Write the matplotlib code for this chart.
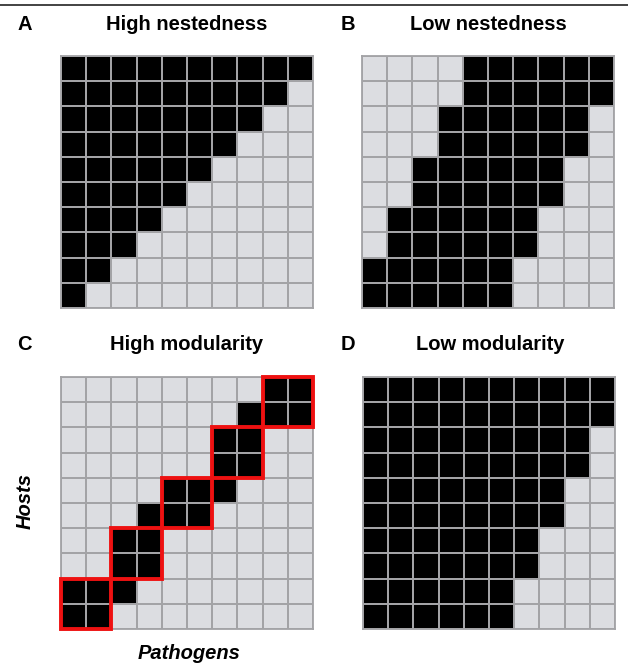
import numpy as np
import matplotlib.pyplot as plt
from matplotlib.colors import ListedColormap
from matplotlib.patches import Rectangle

# 10 x 10 host-pathogen matrices, row 0 at top; 1 = interaction (black)
n = 10
# A: black cells per row from the left
high_nest_len = [10, 9, 8, 7, 6, 5, 4, 3, 2, 1]
# B: black run per row [start, end)
low_nest_start = [4, 4, 3, 3, 2, 2, 1, 1, 0, 0]
low_nest_end = [10, 10, 9, 9, 8, 8, 7, 7, 6, 6]
# C: 2x2 modules (top row, left col) plus stray links (row, col)
modules = [(8, 0), (6, 2), (4, 4), (2, 6), (0, 8)]
stray_links = [(8, 2), (5, 3), (4, 6), (1, 7)]
# D: black cells per row from the left
low_mod_len = [10, 10, 9, 9, 8, 8, 7, 7, 6, 6]

titles = ['High nestedness', 'Low nestedness', 'High modularity', 'Low modularity']
letters = ['A', 'B', 'C', 'D']


def runs(starts, ends):
    m = np.zeros((n, n))
    for r in range(n):
        m[r, starts[r]:ends[r]] = 1
    return m


mat_a = runs([0] * n, high_nest_len)
mat_b = runs(low_nest_start, low_nest_end)
mat_c = np.zeros((n, n))
for r, c in modules:
    mat_c[r:r + 2, c:c + 2] = 1
for r, c in stray_links:
    mat_c[r, c] = 1
mat_d = runs([0] * n, low_mod_len)
mats = [mat_a, mat_b, mat_c, mat_d]

W, H = 628, 667
fig = plt.figure(figsize=(W / 100, H / 100), dpi=100)
plt.rcParams['font.family'] = ['Liberation Sans', 'DejaVu Sans']

cmap = ListedColormap(['#dcdde1', '#000000'])
# panel boxes in pixels: left, top, size
boxes = [(61, 56, 252), (362, 56, 252), (61, 377, 252), (363, 377, 252)]
title_cx = [187, 488, 187, 490]
fs = 14.5

for i, (x0, y0, s) in enumerate(boxes):
    ax = fig.add_axes([x0 / W, 1 - (y0 + s) / H, s / W, s / H])
    ax.pcolormesh(np.arange(n + 1), np.arange(n + 1), mats[i], cmap=cmap,
                  vmin=0, vmax=1, edgecolors='#a3a3a6', linewidth=1.3)
    ax.set_xlim(0, n)
    ax.set_ylim(n, 0)
    ax.set_xticks([])
    ax.set_yticks([])
    for sp in ax.spines.values():
        sp.set_color('#a3a3a6')
        sp.set_linewidth(1.3)
    if i == 2:
        for r, c in modules:
            ax.add_patch(Rectangle((c, r), 2, 2, fill=False, edgecolor='#ee1111',
                                   linewidth=2.8, clip_on=False, zorder=5))
    ty = 1 - (30.5 if i < 2 else 350) / H
    fig.text(title_cx[i] / W, ty, titles[i], ha='center', va='baseline',
             fontsize=fs, fontweight='bold')
    lx = (17 if i % 2 == 0 else 341) / W
    fig.text(lx, ty, letters[i], ha='left', va='baseline',
             fontsize=fs, fontweight='bold')

fig.text(25.5 / W, 1 - 501 / H, 'Hosts', rotation=90, ha='center', va='center',
         fontsize=fs, fontweight='bold', style='italic')
fig.text(189 / W, 1 - 659 / H, 'Pathogens', ha='center', va='baseline',
         fontsize=fs, fontweight='bold', style='italic')

# rule across the top
fig.add_artist(plt.Line2D([0, 1], [1 - 5 / H, 1 - 5 / H], color='#222222', linewidth=1.2))

fig.savefig('out.png', dpi=100)
